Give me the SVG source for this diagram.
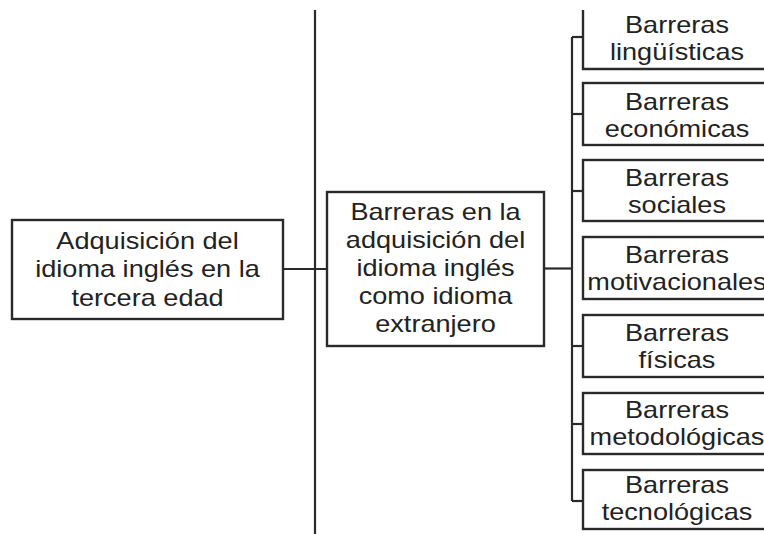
<svg xmlns="http://www.w3.org/2000/svg" width="764" height="534" viewBox="0 0 764 534">
<style>
.box{fill:#fff;stroke:#2a2a2a;stroke-width:2.4}
.ln{fill:none;stroke:#2a2a2a;stroke-width:2.2}
text{font-family:"Liberation Sans",Arial,sans-serif;font-size:24px;fill:#222;text-anchor:middle}
</style>
<rect width="764" height="534" fill="#fff"/>
<g id="connectors">
<line class="ln" x1="315" y1="10" x2="315" y2="534"/>
<line class="ln" x1="283" y1="269" x2="327" y2="269"/>
<line class="ln" x1="544" y1="268.5" x2="572" y2="268.5"/>
<line class="ln" x1="572" y1="37" x2="572" y2="501"/>
<line class="ln" x1="572" y1="37" x2="583" y2="37"/>
<line class="ln" x1="572" y1="114" x2="583" y2="114"/>
<line class="ln" x1="572" y1="191" x2="583" y2="191"/>
<line class="ln" x1="572" y1="346" x2="583" y2="346"/>
<line class="ln" x1="572" y1="424" x2="583" y2="424"/>
<line class="ln" x1="572" y1="501" x2="583" y2="501"/>
</g>
<g id="n-adquisicion">
<rect class="box" x="12" y="220" width="271" height="99"/>
<text transform="translate(147.5,0) scale(1.13,1)"><tspan x="0" y="249">Adquisición del</tspan><tspan x="0" y="277">idioma inglés en la</tspan><tspan x="0" y="306">tercera edad</tspan></text>
</g>
<g id="n-barreras">
<rect class="box" x="327" y="192" width="217" height="154"/>
<text transform="translate(435.5,0) scale(1.13,1)"><tspan x="0" y="220">Barreras en la</tspan><tspan x="0" y="248">adquisición del</tspan><tspan x="0" y="276">idioma inglés</tspan><tspan x="0" y="304">como idioma</tspan><tspan x="0" y="332">extranjero</tspan></text>
</g>
<g id="n-linguisticas">
<path class="box" d="M583,10 V69 H775"/>
<text transform="translate(677,0) scale(1.13,1)"><tspan x="0" y="33">Barreras</tspan><tspan x="0" y="60">lingüísticas</tspan></text>
</g>
<g id="n-economicas">
<rect class="box" x="583" y="83" width="192" height="62"/>
<text transform="translate(677,0) scale(1.13,1)"><tspan x="0" y="110">Barreras</tspan><tspan x="0" y="137">económicas</tspan></text>
</g>
<g id="n-sociales">
<rect class="box" x="583" y="160" width="192" height="61"/>
<text transform="translate(677,0) scale(1.13,1)"><tspan x="0" y="186">Barreras</tspan><tspan x="0" y="213">sociales</tspan></text>
</g>
<g id="n-motivacionales">
<rect class="box" x="583" y="237" width="192" height="62"/>
<text transform="translate(677,0) scale(1.13,1)"><tspan x="0" y="263">Barreras</tspan><tspan x="0" y="290">motivacionales</tspan></text>
</g>
<g id="n-fisicas">
<rect class="box" x="583" y="315" width="192" height="62"/>
<text transform="translate(677,0) scale(1.13,1)"><tspan x="0" y="341">Barreras</tspan><tspan x="0" y="368">físicas</tspan></text>
</g>
<g id="n-metodologicas">
<rect class="box" x="583" y="393" width="192" height="61"/>
<text transform="translate(677,0) scale(1.13,1)"><tspan x="0" y="418">Barreras</tspan><tspan x="0" y="445">metodológicas</tspan></text>
</g>
<g id="n-tecnologicas">
<rect class="box" x="583" y="470" width="192" height="59"/>
<text transform="translate(677,0) scale(1.13,1)"><tspan x="0" y="493">Barreras</tspan><tspan x="0" y="520">tecnológicas</tspan></text>
</g>
</svg>
